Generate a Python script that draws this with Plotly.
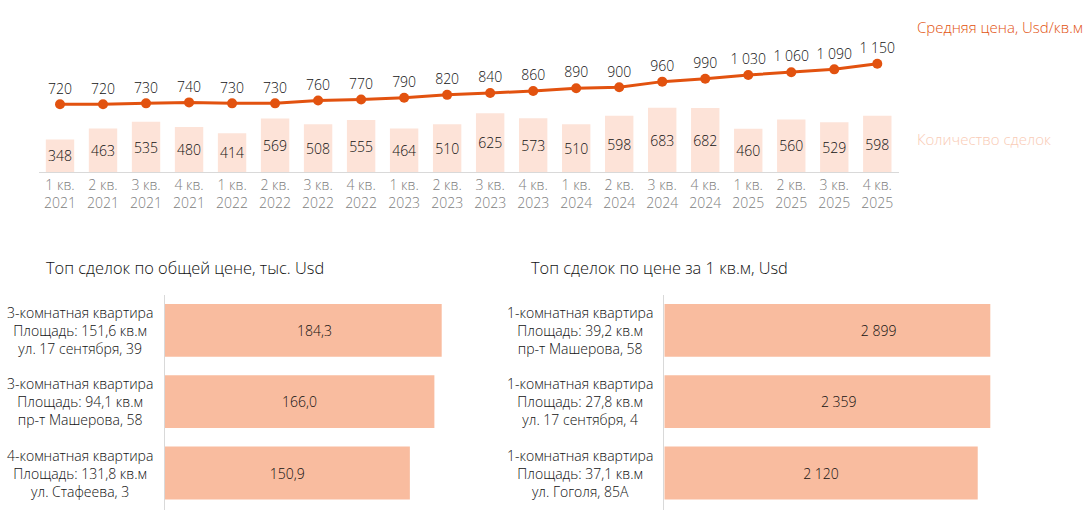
import plotly.graph_objects as go

# quarterly data
quarters = ["1 кв.", "2 кв.", "3 кв.", "4 кв."] * 5
years = [y for y in ["2021", "2022", "2023", "2024", "2025"] for _ in range(4)]
deals_count = [348, 463, 535, 480, 414, 569, 508, 555, 464, 510,
               625, 573, 510, 598, 683, 682, 460, 560, 529, 598]
avg_price = [720, 720, 730, 740, 730, 730, 760, 770, 790, 820,
             840, 860, 890, 900, 960, 990, 1030, 1060, 1090, 1150]

# top deals by total price, thousand Usd
top_total_labels = [
    "3-комнатная квартира<br>Площадь: 151,6 кв.м<br>ул. 17 сентября, 39",
    "3-комнатная квартира<br>Площадь: 94,1 кв.м<br>пр-т Машерова, 58",
    "4-комнатная квартира<br>Площадь: 131,8 кв.м<br>ул. Стафеева, 3",
]
top_total_values = [184.3, 166.0, 150.9]

# top deals by price per sq.m, Usd
top_sqm_labels = [
    "1-комнатная квартира<br>Площадь: 39,2 кв.м<br>пр-т Машерова, 58",
    "1-комнатная квартира<br>Площадь: 27,8 кв.м<br>ул. 17 сентября, 4",
    "1-комнатная квартира<br>Площадь: 37,1 кв.м<br>ул. Гоголя, 85А",
]
top_sqm_values = [2899, 2359, 2120]

FONT = "Open Sans"
WEIGHT = 300
LINE_COLOR = "#e2520f"
BAR_LIGHT = "#fde3d8"
BAR_MID = "#f9bc9f"
TEXT = "#111111"
W, H = 1088, 510


def thousands(v):
    return f"{v:,}".replace(",", " ")


def decimal_comma(v):
    return f"{v:.1f}".replace(".", ",")


def font(size, color=TEXT):
    return dict(family=FONT, size=size, color=color, weight=WEIGHT)


x_cats = [f"{q}<br>{y}" for q, y in zip(quarters, years)]

fig = go.Figure()

fig.add_trace(go.Bar(
    x=x_cats, y=deals_count,
    marker=dict(color=BAR_LIGHT, line=dict(width=0)),
    text=[str(v) for v in deals_count],
    textposition="inside", insidetextanchor="middle",
    textangle=0, constraintext="none",
    textfont=font(14),
    xaxis="x", yaxis="y", hoverinfo="skip",
))
fig.add_trace(go.Scatter(
    x=x_cats, y=avg_price,
    mode="lines+markers+text",
    line=dict(color=LINE_COLOR, width=3),
    marker=dict(color=LINE_COLOR, size=10),
    text=[thousands(v) for v in avg_price],
    textposition="top center",
    textfont=font(14),
    cliponaxis=False,
    xaxis="x", yaxis="y", hoverinfo="skip",
))

fig.add_trace(go.Bar(
    y=list(range(len(top_total_values))), x=top_total_values,
    orientation="h", width=0.74,
    marker=dict(color=BAR_MID, line=dict(width=0)),
    text=[decimal_comma(v) for v in top_total_values],
    textposition="inside", insidetextanchor="middle",
    textangle=0, constraintext="none",
    textfont=font(14),
    xaxis="x2", yaxis="y2", hoverinfo="skip",
))
fig.add_trace(go.Bar(
    y=list(range(len(top_sqm_values))), x=top_sqm_values,
    orientation="h", width=0.74,
    marker=dict(color=BAR_MID, line=dict(width=0)),
    text=[thousands(v) for v in top_sqm_values],
    textposition="inside", insidetextanchor="middle",
    textangle=0, constraintext="none",
    textfont=font(14),
    xaxis="x3", yaxis="y3", hoverinfo="skip",
))

annotations = [
    dict(text="Средняя цена, Usd/кв.м", x=915 / W, y=1 - 27 / H,
         xanchor="left", yanchor="middle", font=font(15, LINE_COLOR)),
    dict(text="Количество сделок", x=915 / W, y=1 - 139 / H,
         xanchor="left", yanchor="middle", font=font(15, "#f9cbb6")),
    dict(text="Топ сделок по общей цене, тыс. Usd", x=44 / W, y=1 - 267 / H,
         xanchor="left", yanchor="middle", font=font(16.4)),
    dict(text="Топ сделок по цене за 1 кв.м, Usd", x=529 / W, y=1 - 267 / H,
         xanchor="left", yanchor="middle", font=font(16.4)),
]
for i, lab in enumerate(top_total_labels):
    annotations.append(dict(text=lab, x=155 / W, xref="paper", y=i, yref="y2",
                            xanchor="right", yanchor="middle", align="center",
                            font=font(14)))
for i, lab in enumerate(top_sqm_labels):
    annotations.append(dict(text=lab, x=655 / W, xref="paper", y=i, yref="y3",
                            xanchor="right", yanchor="middle", align="center",
                            font=font(14)))
for a in annotations:
    a.setdefault("xref", "paper")
    a.setdefault("yref", "paper")
    a["showarrow"] = False

fig.update_layout(
    width=W, height=H,
    margin=dict(l=0, r=0, t=0, b=0),
    paper_bgcolor="white", plot_bgcolor="white",
    showlegend=False, bargap=0.34,
    font=dict(family=FONT, weight=WEIGHT),
    annotations=annotations,
    xaxis=dict(domain=[38.5 / W, 898.8 / W], range=[-0.5, 19.5],
               showline=True, linecolor="#d9d9d9",
               linewidth=1, ticks="", showgrid=False, zeroline=False,
               tickfont=font(14, "#808080"),
               fixedrange=True),
    yaxis=dict(domain=[1 - 172.3 / H, 1 - 2.3 / H], range=[0, 1800],
               visible=False, fixedrange=True),
    xaxis2=dict(domain=[164.7 / W, 441.7 / W], range=[0, 170.5],
                visible=False, fixedrange=True),
    yaxis2=dict(domain=[0, 1 - 294.6 / H], range=[2.518, -0.5],
                showline=True, linecolor="#d9d9d9", showticklabels=False,
                ticks="", showgrid=False, zeroline=False, anchor="x2",
                fixedrange=True),
    xaxis3=dict(domain=[664.3 / W, 990.3 / W], range=[0, 2205],
                visible=False, fixedrange=True),
    yaxis3=dict(domain=[0, 1 - 294.6 / H], range=[2.518, -0.5],
                showline=True, linecolor="#d9d9d9", showticklabels=False,
                ticks="", showgrid=False, zeroline=False, anchor="x3",
                fixedrange=True),
)

fig.write_html("out.html", config={"displayModeBar": False},
               post_script="document.body.style.margin='0';")
